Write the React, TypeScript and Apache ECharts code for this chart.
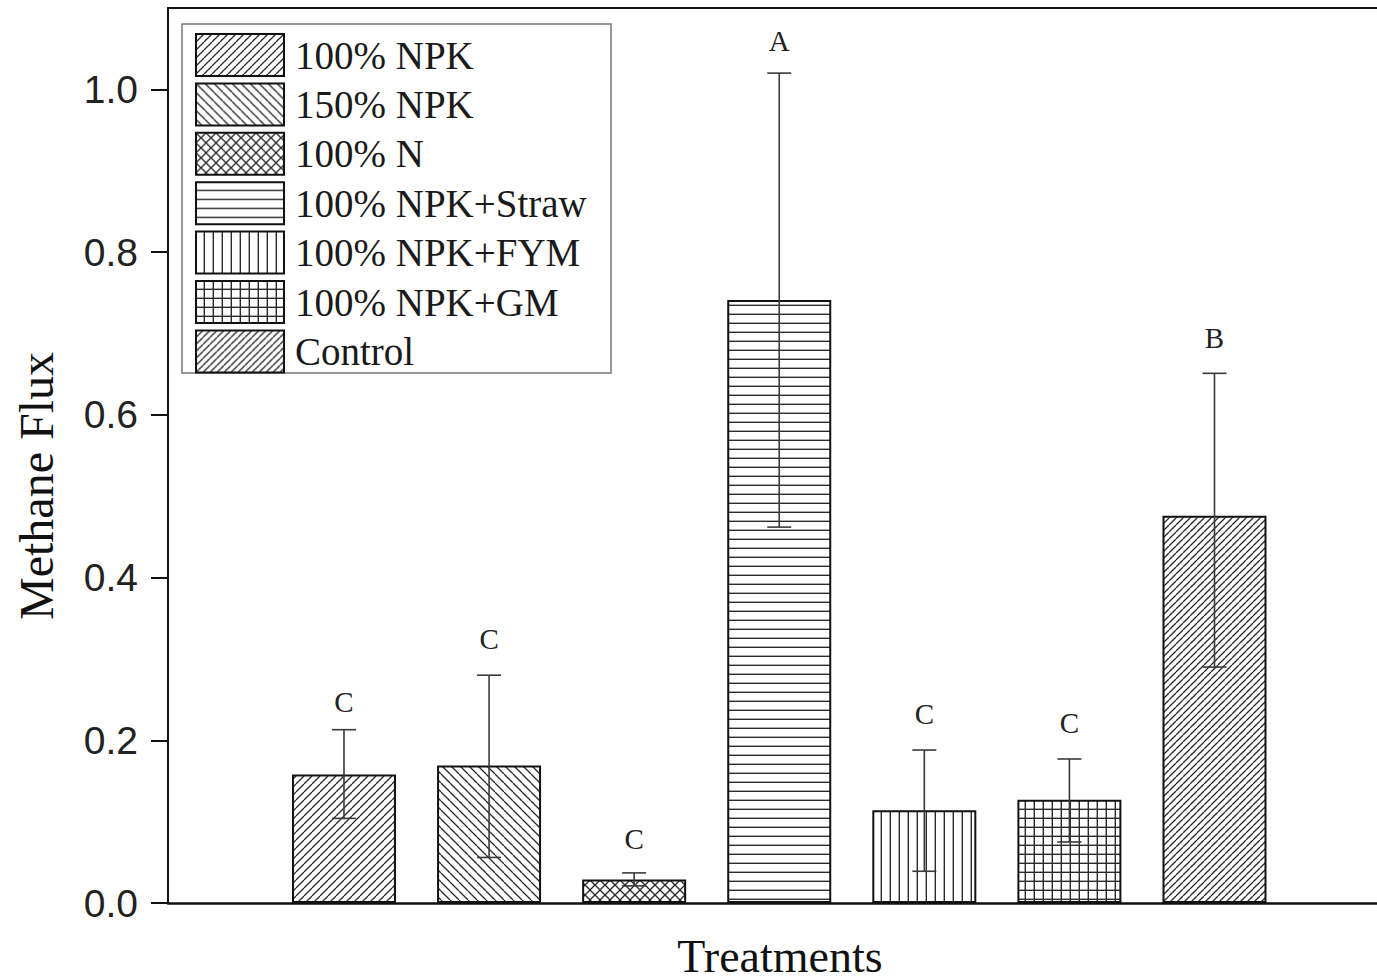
import React, { useEffect, useRef } from "react";
import * as echarts from "echarts";

const treatments = [
  "100% NPK",
  "150% NPK",
  "100% N",
  "100% NPK+Straw",
  "100% NPK+FYM",
  "100% NPK+GM",
  "Control",
];
const positions = [1, 2, 3, 4, 5, 6, 7];
const fluxMeans = [0.158, 0.169, 0.029, 0.741, 0.114, 0.127, 0.476];
const errLow = [0.104, 0.056, 0.021, 0.462, 0.039, 0.075, 0.29];
const errHigh = [0.213, 0.28, 0.037, 1.02, 0.188, 0.177, 0.651];
const letters = ["C", "C", "C", "A", "C", "C", "B"];
const letterLevels = [0.247, 0.325, 0.079, 1.06, 0.232, 0.221, 0.695];
const yTicks = [0, 0.2, 0.4, 0.6, 0.8, 1.0];
const patternKinds = ["fwd", "back", "cross", "horiz", "vert", "grid", "fwd"];
const patternSizes = [8, 9, 10, 9, 9, 9, 7];

function makePattern(kind: string, size: number) {
  const c = document.createElement("canvas");
  c.width = size;
  c.height = size;
  const ctx = c.getContext("2d") as CanvasRenderingContext2D;
  ctx.fillStyle = "#ffffff";
  ctx.fillRect(0, 0, size, size);
  ctx.strokeStyle = "#2b2b2b";
  ctx.lineWidth = 1.3;
  const line = (x1: number, y1: number, x2: number, y2: number) => {
    ctx.beginPath();
    ctx.moveTo(x1, y1);
    ctx.lineTo(x2, y2);
    ctx.stroke();
  };
  if (kind === "fwd" || kind === "cross") {
    for (const k of [-1, 0, 1]) line(k * size, size, k * size + size, 0);
  }
  if (kind === "back" || kind === "cross") {
    for (const k of [-1, 0, 1]) line(k * size, 0, k * size + size, size);
  }
  if (kind === "horiz" || kind === "grid") {
    ctx.lineWidth = 1.4;
    line(0, size - 0.7, size, size - 0.7);
  }
  if (kind === "vert" || kind === "grid") {
    ctx.lineWidth = 1.4;
    line(size - 0.7, 0, size - 0.7, size);
  }
  return {
    image: c,
    repeat: "repeat",
    imageWidth: size,
    imageHeight: size,
  };
}

export default function App() {
  const ref = useRef<HTMLDivElement>(null);

  useEffect(() => {
    if (!ref.current) return;
    const chart = echarts.init(ref.current, null, { renderer: "svg" });

    const xMin = -0.213;
    const xMax = 8.2235;

    const barSeries = treatments.map((name, i) => ({
      type: "bar",
      name,
      data: [[positions[i], fluxMeans[i]]],
      barWidth: 104,
      barGap: "-100%",
      z: 2,
      itemStyle: {
        color: makePattern(patternKinds[i], patternSizes[i]),
        borderColor: "#111",
        borderWidth: 2,
      },
    }));

    const errorSeries = {
      type: "custom",
      name: "errors",
      z: 5,
      encode: { x: 0, y: [1, 2] },
      data: positions.map((p, i) => [p, errLow[i], errHigh[i], letterLevels[i]]),
      renderItem: (params: any, api: any) => {
        const x = api.value(0);
        const pLo = api.coord([x, api.value(1)]);
        const pHi = api.coord([x, api.value(2)]);
        const pL = api.coord([x, api.value(3)]);
        const half = 12;
        const st = { stroke: "#3a3a3a", lineWidth: 1.6 };
        return {
          type: "group",
          children: [
            { type: "line", shape: { x1: pLo[0], y1: pLo[1], x2: pHi[0], y2: pHi[1] }, style: st },
            { type: "line", shape: { x1: pHi[0] - half, y1: pHi[1], x2: pHi[0] + half, y2: pHi[1] }, style: st },
            { type: "line", shape: { x1: pLo[0] - half, y1: pLo[1], x2: pLo[0] + half, y2: pLo[1] }, style: st },
            {
              type: "text",
              x: pL[0],
              y: pL[1],
              style: {
                text: letters[params.dataIndex],
                fontFamily: "Liberation Serif",
                fontSize: 29,
                fill: "#222",
                align: "center",
                verticalAlign: "middle",
              },
            },
          ],
        };
      },
    };

    chart.setOption({
      animation: false,
      backgroundColor: "#ffffff",
      grid: {
        left: 168,
        right: -15,
        top: 8,
        bottom: 77,
        containLabel: false,
        outerBoundsMode: "none",
      },
      legend: {
        orient: "vertical",
        left: 195,
        top: 33,
        padding: 0,
        itemWidth: 88,
        itemHeight: 42,
        itemGap: 5.4,
        icon: "rect",
        selectedMode: false,
        data: treatments,
        itemStyle: { borderColor: "#111", borderWidth: 2 },
        textStyle: {
          fontFamily: "Liberation Serif",
          fontSize: 39,
          color: "#1a1a1a",
          lineHeight: 42,
          padding: [0, 0, 0, 6],
        },
      },
      xAxis: [
        {
          type: "value",
          min: xMin,
          max: xMax,
          position: "bottom",
          axisLine: { show: true, onZero: false, lineStyle: { color: "#111", width: 2.5 } },
          axisTick: { show: false },
          axisLabel: { show: false },
          splitLine: { show: false },
          name: "Treatments",
          nameLocation: "middle",
          nameGap: 30,
          nameTextStyle: { fontFamily: "Liberation Serif", fontSize: 46, lineHeight: 46, color: "#111" },
        },
        {
          type: "value",
          min: xMin,
          max: xMax,
          position: "top",
          axisLine: { show: true, onZero: false, lineStyle: { color: "#111", width: 2 } },
          axisTick: { show: false },
          axisLabel: { show: false },
          splitLine: { show: false },
        },
      ],
      yAxis: {
        type: "value",
        min: 0,
        max: 1.1,
        position: "left",
        axisLine: { show: true, onZero: false, lineStyle: { color: "#111", width: 2 } },
        splitLine: { show: false },
        axisTick: {
          show: true,
          inside: false,
          length: 17,
          customValues: yTicks,
          lineStyle: { color: "#111", width: 2 },
        },
        axisLabel: {
          customValues: yTicks,
          margin: 30,
          fontFamily: "Liberation Sans",
          fontSize: 39,
          color: "#222",
          formatter: (v: number) =>
            yTicks.some((t) => Math.abs(t - v) < 1e-6) ? v.toFixed(1) : "",
        },
      },
      graphic: [
        {
          type: "rect",
          shape: { x: 182, y: 24, width: 429, height: 349 },
          style: { fill: "none", stroke: "#777", lineWidth: 1.5 },
          z: 0,
        },
        {
          type: "text",
          x: 36,
          y: 486,
          rotation: Math.PI / 2,
          style: {
            text: "Methane Flux",
            fontFamily: "Liberation Serif",
            fontSize: 48,
            fill: "#111",
            align: "center",
            verticalAlign: "middle",
          },
        },
      ],
      series: [...barSeries, errorSeries],
    });

    return () => chart.dispose();
  }, []);

  return (
    <div
      ref={ref}
      style={{ position: "absolute", left: 0, top: 0, width: 1377, height: 980, background: "#fff" }}
    />
  );
}
